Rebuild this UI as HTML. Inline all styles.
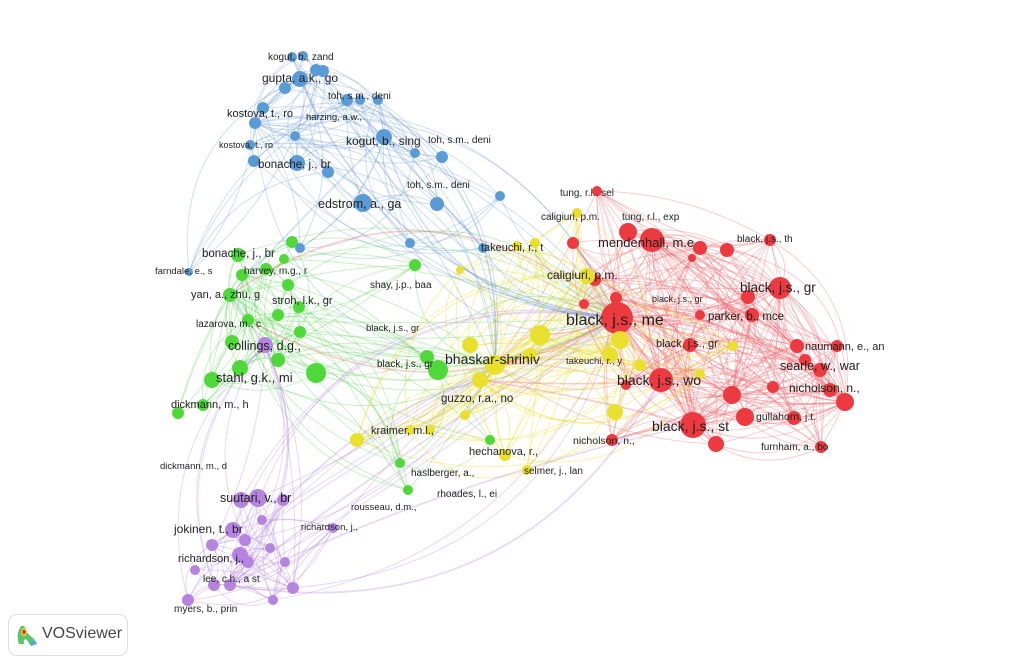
<!DOCTYPE html>
<html><head><meta charset="utf-8">
<style>
html,body{margin:0;padding:0;background:#fff;width:1024px;height:664px;overflow:hidden}
svg{position:absolute;left:0;top:0}
text{font-family:"Liberation Sans",sans-serif;fill:#1e1e1e;}
.logo{position:absolute;left:8px;top:614px;width:120px;height:42px;border:1px solid #ddd;border-radius:9px;background:#fff;box-sizing:border-box}
.logo span{position:absolute;left:33px;top:10px;font:16px "Liberation Sans",sans-serif;color:#444}
</style></head><body>
<svg id="s" width="1024" height="664" viewBox="0 0 1024 664">
<g id="edges" fill="none"></g>
<g id="nodes"></g>
<g id="labels">
<text x="268" y="60" font-size="10">kogut, b., zand</text>
<text x="262" y="82" font-size="12">gupta, a.k., go</text>
<text x="328" y="99" font-size="10">toh, s.m., deni</text>
<text x="227" y="117" font-size="11">kostova, t., ro</text>
<text x="306" y="120" font-size="9.5">harzing, a.w.,</text>
<text x="219" y="148" font-size="9">kostova, t., ro</text>
<text x="346" y="145" font-size="12">kogut, b., sing</text>
<text x="428" y="143" font-size="10">toh, s.m., deni</text>
<text x="258" y="168" font-size="11.5">bonache, j., br</text>
<text x="407" y="188" font-size="10">toh, s.m., deni</text>
<text x="318" y="208" font-size="12.5">edstrom, a., ga</text>
<text x="560" y="196" font-size="10">tung, r.l., sel</text>
<text x="541" y="220" font-size="10">caligiuri, p.m.</text>
<text x="622" y="220" font-size="10">tung, r.l., exp</text>
<text x="598" y="247" font-size="13">mendenhall, m.e</text>
<text x="737" y="242" font-size="10">black, j.s., th</text>
<text x="481" y="251" font-size="11">takeuchi, r., t</text>
<text x="547" y="279" font-size="12">caligiuri, p.m.</text>
<text x="740" y="292" font-size="13.5">black, j.s., gr</text>
<text x="652" y="302" font-size="9">black, j.s., gr</text>
<text x="708" y="320" font-size="11.5">parker, b., mce</text>
<text x="566" y="325" font-size="16">black, j.s., me</text>
<text x="202" y="257" font-size="11.5">bonache, j., br</text>
<text x="155" y="274" font-size="9.5">farndale, e., s</text>
<text x="244" y="274" font-size="10">harvey, m.g., r</text>
<text x="370" y="288" font-size="10">shay, j.p., baa</text>
<text x="191" y="298" font-size="11">yan, a., zhu, g</text>
<text x="272" y="304" font-size="11">stroh, l.k., gr</text>
<text x="196" y="327" font-size="10">lazarova, m., c</text>
<text x="366" y="331" font-size="9.5">black, j.s., gr</text>
<text x="228" y="350" font-size="12.5">collings, d.g.,</text>
<text x="656" y="347" font-size="11">black, j.s., gr</text>
<text x="805" y="350" font-size="11">naumann, e., an</text>
<text x="445" y="364" font-size="14">bhaskar-shriniv</text>
<text x="377" y="367" font-size="10">black, j.s., gr</text>
<text x="566" y="364" font-size="9.5">takeuchi, r., y</text>
<text x="780" y="370" font-size="12.5">searle, w., war</text>
<text x="216" y="382" font-size="13">stahl, g.k., mi</text>
<text x="617" y="385" font-size="14">black, j.s., wo</text>
<text x="789" y="392" font-size="12">nicholson, n.,</text>
<text x="441" y="402" font-size="11.5">guzzo, r.a., no</text>
<text x="171" y="408" font-size="11">dickmann, m., h</text>
<text x="756" y="420" font-size="10.5">gullahorn, j.t.</text>
<text x="652" y="431" font-size="14">black, j.s., st</text>
<text x="371" y="434" font-size="11">kraimer, m.l.,</text>
<text x="573" y="444" font-size="10.5">nicholson, n.,</text>
<text x="761" y="450" font-size="10">furnham, a., bo</text>
<text x="469" y="455" font-size="11">hechanova, r.,</text>
<text x="160" y="469" font-size="9.5">dickmann, m., d</text>
<text x="411" y="476" font-size="10">haslberger, a.,</text>
<text x="524" y="474" font-size="10">selmer, j., lan</text>
<text x="437" y="497" font-size="10">rhoades, l., ei</text>
<text x="220" y="502" font-size="12.5">suutari, v., br</text>
<text x="351" y="510" font-size="9.5">rousseau, d.m.,</text>
<text x="301" y="530" font-size="9.5">richardson, j.,</text>
<text x="174" y="533" font-size="12">jokinen, t., br</text>
<text x="178" y="562" font-size="11">richardson, j.,</text>
<text x="203" y="582" font-size="10">lee, c.h., a st</text>
<text x="174" y="612" font-size="10">myers, b., prin</text>
</g>
</svg>
<div class="logo">
<svg width="24" height="26" style="position:absolute;left:6px;top:7px"><path d="M6 4 C2 10,2 16,4 22 L9 22 C8 18,10 16,12 18 L16 24 L22 22 C20 16,14 14,12 10 C11 6,9 3,6 4Z" fill="#5bc46c"/><ellipse cx="9" cy="10" rx="3" ry="4" fill="#f2d028"/><ellipse cx="9" cy="10" rx="1.6" ry="2.2" fill="#d83232"/><ellipse cx="18" cy="21" rx="3" ry="2" fill="#5aa4e0"/></svg>
<span>VOSviewer</span></div>
<script>
var C={r:'#ec3a40',y:'#e8e02c',g:'#4fd83a',b:'#5b9bd5',p:'#b584e0'};
var E={r:'rgba(240,90,95,0.3)',y:'rgba(235,220,40,0.38)',g:'rgba(80,210,70,0.3)',b:'rgba(100,150,210,0.3)',p:'rgba(180,130,220,0.32)'};
var N=[
['r',617,318,16],['r',652,240,12],['r',628,232,9],['r',693,425,13],['r',661,380,12],['r',780,288,11],['r',700,248,7],['r',573,243,6],['r',597,191,5],['r',692,258,4],['r',727,250,7],['r',770,240,6],['r',748,297,7],['r',752,315,7],['r',700,315,5],['r',690,345,7],['r',732,395,9],['r',745,417,9],['r',716,444,8],['r',773,387,6],['r',797,346,7],['r',805,360,6],['r',820,370,7],['r',830,390,7],['r',845,402,9],['r',837,346,6],['r',821,447,6],['r',794,418,7],['r',612,440,6],['r',626,385,5],['r',584,304,5],['r',616,298,6],['r',595,280,6],
['y',587,276,8],['y',577,213,5],['y',517,246,5],['y',535,243,5],['y',540,335,10],['y',620,340,9],['y',610,355,8],['y',700,374,5],['y',733,346,5],['y',615,412,8],['y',480,380,8],['y',495,365,10],['y',470,345,8],['y',460,270,4],['y',357,440,7],['y',430,430,5],['y',465,415,5],['y',527,470,5],['y',640,365,6],['y',410,430,5],['y',505,455,6],['y',530,355,7],
['g',438,370,10],['g',316,373,10],['g',278,360,7],['g',248,320,6],['g',230,295,7],['g',242,275,6],['g',238,255,7],['g',292,242,6],['g',278,315,6],['g',288,285,6],['g',212,380,8],['g',203,405,6],['g',178,413,6],['g',232,342,7],['g',240,368,8],['g',300,332,6],['g',490,440,5],['g',408,490,5],['g',415,265,6],['g',400,463,5],['g',299,307,6],['g',266,269,6],['g',284,259,5],['g',427,357,7],
['b',363,203,9],['b',437,204,7],['b',442,157,6],['b',384,137,8],['b',415,153,5],['b',295,136,5],['b',255,123,6],['b',263,108,6],['b',285,88,6],['b',300,79,8],['b',316,70,6],['b',323,71,6],['b',292,57,5],['b',303,56,5],['b',347,100,6],['b',360,100,5],['b',378,100,5],['b',254,161,6],['b',297,163,8],['b',328,172,6],['b',300,248,5],['b',410,243,5],['b',483,248,5],['b',189,272,4],['b',250,145,5],['b',500,196,5],
['p',265,345,8],['p',258,498,9],['p',241,500,8],['p',283,500,6],['p',233,530,8],['p',248,562,6],['p',212,545,6],['p',230,585,6],['p',188,600,6],['p',293,588,6],['p',273,600,5],['p',214,585,6],['p',262,520,5],['p',285,562,5],['p',195,570,5],['p',240,555,8],['p',270,548,5],['p',245,540,6],['p',333,528,5]
];
var hubs={r:[0,1,3,4,5,16,24],y:[33,37,38,44,43],g:[58,59,57,60],b:[82,84,85],p:[111,112,115,114]};
function idx(c){var a=[];N.forEach(function(n,i){if(n[0]==c)a.push(i)});return a}
var seed=7;function rnd(){seed=(seed*16807)%2147483647;return seed/2147483647}
var h='';
function edge(a,b,col,w,kk){var A=N[a],B=N[b];var dx=B[1]-A[1],dy=B[2]-A[2];var k=(kk!==undefined?kk:(rnd()-0.5)*0.9);var mx=(A[1]+B[1])/2-dy*k,my=(A[2]+B[2])/2+dx*k;
h+='<path d="M'+A[1]+' '+A[2]+' Q'+mx.toFixed(1)+' '+my.toFixed(1)+' '+B[1]+' '+B[2]+'" stroke="'+col+'" stroke-width="'+w+'"/>';}
N.forEach(function(n,i){var c=n[0];var hs=hubs[c];
 var pr=(c=='r'||c=='y')?0.8:0.55;
 hs.forEach(function(j){if(j!=i&&rnd()<pr)edge(i,j,E[c],1);});
 var same=idx(c);var m=(c=='r')?4:2;for(var t=0;t<m;t++){var j=same[Math.floor(rnd()*same.length)];if(j!=i)edge(i,j,E[c],1);}
 if(c!='r'){ if(rnd()<0.45) edge(i,0,E[c],1); if(c!='y'&&rnd()<0.3) edge(i,44,E[c],1);}
 else { if(rnd()<0.35) edge(i,44,E.r,1); }
});
[[0,33],[0,37],[0,44],[0,58],[0,59],[4,43],[3,43],[59,58],[58,44],[82,0],[112,0],[112,43],[59,0],[82,59],[112,59],[1,33],[0,38],[112,4],[112,3]].forEach(function(p){edge(p[0],p[1],E[N[p[0]][0]],1.6)});
document.getElementById('edges').innerHTML=h;
var ng='';N.forEach(function(n){ng+='<circle cx="'+n[1]+'" cy="'+n[2]+'" r="'+n[3]+'" fill="'+C[n[0]]+'"/>'});
document.getElementById('nodes').innerHTML=ng;
</script>
</body></html>
